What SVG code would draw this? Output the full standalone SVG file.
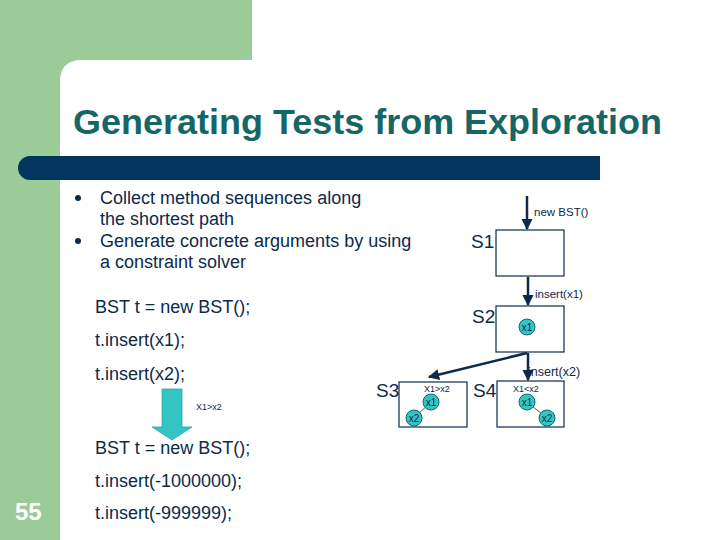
<svg xmlns="http://www.w3.org/2000/svg" width="720" height="540" viewBox="0 0 720 540">
<defs>
<style>
.t{font-family:"Liberation Sans",Arial,sans-serif;fill:#0d2a4a}
.b{font-size:18px}
.c{font-size:18px}
.lbl{font-size:11.5px}
.sl{font-size:19px}
.sm{font-size:9px}
.box{fill:#fff;stroke:#0d2a4a;stroke-width:1.2}
.edge{stroke:#0d2a4a;stroke-width:2.5;fill:none}
.node circle{fill:#33c4c4;stroke:#0b6a70;stroke-width:1}
.nt{font-family:"Liberation Sans",Arial,sans-serif;font-size:10px;fill:#0d2a4a;text-anchor:middle}
</style>
<marker id="ah" viewBox="0 0 10 10" refX="9" refY="5" markerWidth="4.5" markerHeight="4.5" orient="auto"><path d="M0,0 L10,5 L0,10 z" fill="#0d2a4a"/></marker>
</defs>
<g id="background">
<rect x="0" y="0" width="720" height="540" fill="#fff"/>
<rect x="0" y="0" width="252" height="80" fill="#9ccb9a"/>
<rect x="0" y="0" width="60" height="540" fill="#9ccb9a"/>
<path d="M60,540 L60,82 Q60,60 82,60 L252,60 L252,80 L720,80 L720,540 z" fill="#fff"/>
<rect x="252" y="0" width="468" height="80" fill="#fff"/>
<path d="M30,156 L600,156 L600,180 L30,180 A12,12 0 0 1 30,156 z" fill="#04355f"/>
</g>
<g id="title">
<text x="73" y="134" font-family="'Liberation Sans',Arial,sans-serif" font-size="35.5" font-weight="bold" fill="#176666" textLength="589" lengthAdjust="spacingAndGlyphs">Generating Tests from Exploration</text>
</g>
<g id="bullets">
<circle cx="78" cy="198" r="3" fill="#0d2a4a"/>
<circle cx="78" cy="241" r="3" fill="#0d2a4a"/>
<text class="t b" x="100" y="204">Collect method sequences along</text>
<text class="t b" x="100" y="225">the shortest path</text>
<text class="t b" x="100" y="247">Generate concrete arguments by using</text>
<text class="t b" x="100" y="268">a constraint solver</text>
</g>
<g id="code">
<text class="t c" x="95" y="313">BST t = new BST();</text>
<text class="t c" x="95" y="346">t.insert(x1);</text>
<text class="t c" x="95" y="380">t.insert(x2);</text>
<text class="t c" x="95" y="454">BST t = new BST();</text>
<text class="t c" x="95" y="487">t.insert(-1000000);</text>
<text class="t c" x="95" y="519">t.insert(-999999);</text>
</g>
<g id="blockarrow">
<path d="M162,389 L182,389 L182,427 L192,427 L172,440 L152,427 L162,427 z" fill="#33c4c4" stroke="#2aa8a8" stroke-width="0.8"/>
<text class="t sm" x="196" y="410">X1&gt;x2</text>
</g>
<g id="pagenum">
<text x="15" y="520" font-family="'Liberation Sans',Arial,sans-serif" font-size="24" font-weight="bold" fill="#fff">55</text>
</g>
<g id="connectors">
<line class="edge" x1="527" y1="196" x2="527" y2="229" marker-end="url(#ah)"/>
<line class="edge" x1="528" y1="277" x2="528" y2="305" marker-end="url(#ah)"/>
<line class="edge" x1="527" y1="353" x2="429" y2="377" marker-end="url(#ah)"/>
<line class="edge" x1="528" y1="353" x2="528" y2="380" marker-end="url(#ah)"/>
<text class="t lbl" x="534" y="216">new BST()</text>
<text class="t lbl" x="535" y="298">insert(x1)</text>
<text class="t" font-size="12.5" x="528" y="376">insert(x2)</text>
</g>
<g id="S1">
<rect class="box" x="496" y="230" width="68" height="46"/>
<text class="t sl" x="471" y="248">S1</text>
</g>
<g id="S2">
<rect class="box" x="496" y="306" width="68" height="46"/>
<text class="t sl" x="472" y="323">S2</text>
<g class="node"><circle cx="527" cy="327" r="8"/><text class="nt" x="527" y="331">x1</text></g>
</g>
<g id="S3">
<rect class="box" x="399" y="382" width="68" height="45"/>
<text class="t sl" x="376" y="397">S3</text>
<text class="t sm" x="424" y="392">X1&gt;x2</text>
<line x1="431" y1="402" x2="414" y2="418" stroke="#0d2a4a" stroke-width="0.8"/>
<g class="node"><circle cx="431" cy="402" r="8"/><text class="nt" x="431" y="406">x1</text></g>
<g class="node"><circle cx="414" cy="418" r="8"/><text class="nt" x="414" y="422">x2</text></g>
</g>
<g id="S4">
<rect class="box" x="497" y="381" width="67" height="46"/>
<text class="t sl" x="473" y="397">S4</text>
<text class="t sm" x="513" y="392">X1&lt;x2</text>
<line x1="527" y1="402" x2="547" y2="418" stroke="#0d2a4a" stroke-width="0.8"/>
<g class="node"><circle cx="527" cy="402" r="8"/><text class="nt" x="527" y="406">x1</text></g>
<g class="node"><circle cx="547" cy="418" r="8"/><text class="nt" x="547" y="422">x2</text></g>
</g>
</svg>
